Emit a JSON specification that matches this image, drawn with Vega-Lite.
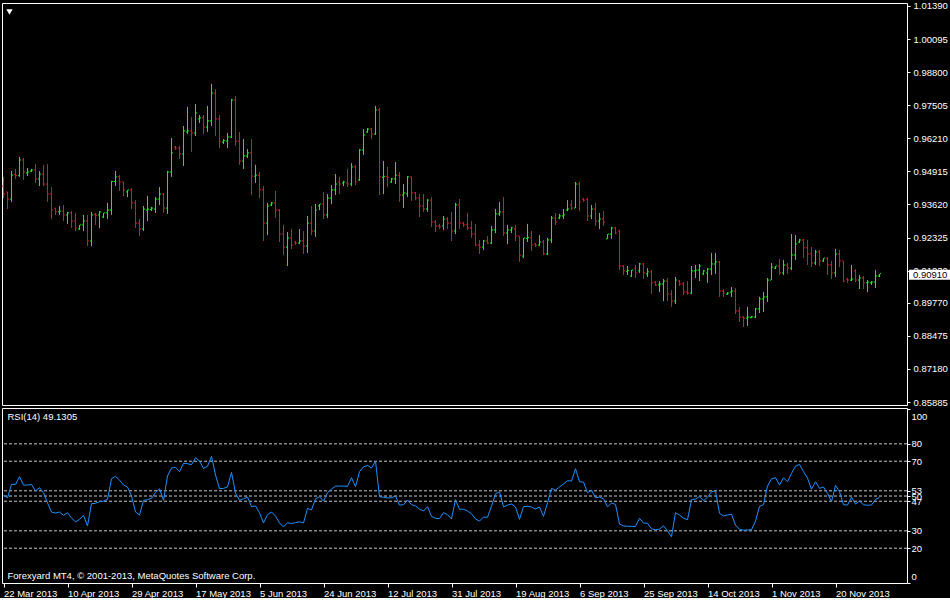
{
  "$schema": "https://vega.github.io/schema/vega-lite/v6.json",
  "background": "#000000",
  "padding": {"left": 1, "top": 0, "right": 0, "bottom": 0},
  "bounds": "flush",
  "config": {
    "view": {"stroke": "#ffffff", "strokeWidth": 1},
    "font": "Liberation Sans",
    "axis": {"domain": false, "grid": false, "labelColor": "#ffffff", "tickColor": "#ffffff", "labelFont": "Liberation Sans", "labelFontSize": 9.5, "title": null, "labelOverlap": false, "labelBound": false}
  },
  "data": {"values": [
{"d":"2013-03-22","o":0.9434,"h":0.9470,"l":0.9387,"c":0.9403,"r":50.4},
{"d":"2013-03-24","o":0.9411,"h":0.9412,"l":0.9344,"c":0.9383,"r":49.0},
{"d":"2013-03-25","o":0.9383,"h":0.9493,"l":0.9372,"c":0.9477,"r":56.7},
{"d":"2013-03-26","o":0.9479,"h":0.9501,"l":0.9462,"c":0.9475,"r":56.7},
{"d":"2013-03-27","o":0.9475,"h":0.9548,"l":0.9470,"c":0.9536,"r":61.1},
{"d":"2013-03-28","o":0.9536,"h":0.9544,"l":0.9458,"c":0.9489,"r":56.3},
{"d":"2013-03-29","o":0.9485,"h":0.9505,"l":0.9473,"c":0.9489,"r":56.3},
{"d":"2013-03-31","o":0.9493,"h":0.9501,"l":0.9489,"c":0.9497,"r":56.7},
{"d":"2013-04-01","o":0.9497,"h":0.9520,"l":0.9446,"c":0.9462,"r":52.9},
{"d":"2013-04-02","o":0.9462,"h":0.9493,"l":0.9434,"c":0.9481,"r":54.8},
{"d":"2013-04-03","o":0.9481,"h":0.9517,"l":0.9434,"c":0.9442,"r":51.9},
{"d":"2013-04-04","o":0.9442,"h":0.9520,"l":0.9372,"c":0.9403,"r":46.1},
{"d":"2013-04-05","o":0.9403,"h":0.9430,"l":0.9305,"c":0.9340,"r":40.8},
{"d":"2013-04-07","o":0.9348,"h":0.9349,"l":0.9321,"c":0.9333,"r":40.2},
{"d":"2013-04-08","o":0.9333,"h":0.9356,"l":0.9321,"c":0.9336,"r":40.8},
{"d":"2013-04-09","o":0.9336,"h":0.9360,"l":0.9297,"c":0.9321,"r":38.9},
{"d":"2013-04-10","o":0.9321,"h":0.9333,"l":0.9286,"c":0.9329,"r":40.4},
{"d":"2013-04-11","o":0.9329,"h":0.9336,"l":0.9270,"c":0.9297,"r":37.5},
{"d":"2013-04-12","o":0.9297,"h":0.9329,"l":0.9258,"c":0.9270,"r":35.1},
{"d":"2013-04-14","o":0.9266,"h":0.9282,"l":0.9262,"c":0.9282,"r":36.6},
{"d":"2013-04-15","o":0.9282,"h":0.9321,"l":0.9258,"c":0.9297,"r":38.9},
{"d":"2013-04-16","o":0.9297,"h":0.9321,"l":0.9199,"c":0.9219,"r":32.8},
{"d":"2013-04-17","o":0.9219,"h":0.9333,"l":0.9199,"c":0.9321,"r":45.6},
{"d":"2013-04-18","o":0.9323,"h":0.9329,"l":0.9282,"c":0.9319,"r":45.8},
{"d":"2013-04-19","o":0.9321,"h":0.9336,"l":0.9270,"c":0.9333,"r":46.7},
{"d":"2013-04-21","o":0.9313,"h":0.9329,"l":0.9309,"c":0.9329,"r":47.1},
{"d":"2013-04-22","o":0.9329,"h":0.9368,"l":0.9305,"c":0.9340,"r":48.1},
{"d":"2013-04-23","o":0.9340,"h":0.9454,"l":0.9321,"c":0.9452,"r":59.9},
{"d":"2013-04-24","o":0.9452,"h":0.9493,"l":0.9434,"c":0.9470,"r":61.3},
{"d":"2013-04-25","o":0.9470,"h":0.9477,"l":0.9415,"c":0.9450,"r":59.2},
{"d":"2013-04-26","o":0.9450,"h":0.9452,"l":0.9395,"c":0.9419,"r":56.3},
{"d":"2013-04-28","o":0.9411,"h":0.9419,"l":0.9391,"c":0.9419,"r":55.2},
{"d":"2013-04-29","o":0.9419,"h":0.9426,"l":0.9344,"c":0.9368,"r":50.0},
{"d":"2013-04-30","o":0.9368,"h":0.9379,"l":0.9270,"c":0.9289,"r":40.8},
{"d":"2013-05-01","o":0.9289,"h":0.9305,"l":0.9239,"c":0.9266,"r":39.1},
{"d":"2013-05-02","o":0.9266,"h":0.9356,"l":0.9258,"c":0.9344,"r":47.5},
{"d":"2013-05-03","o":0.9340,"h":0.9395,"l":0.9297,"c":0.9344,"r":47.9},
{"d":"2013-05-05","o":0.9342,"h":0.9352,"l":0.9336,"c":0.9348,"r":48.7},
{"d":"2013-05-06","o":0.9344,"h":0.9391,"l":0.9329,"c":0.9383,"r":51.9},
{"d":"2013-05-07","o":0.9383,"h":0.9430,"l":0.9360,"c":0.9403,"r":54.2},
{"d":"2013-05-08","o":0.9403,"h":0.9407,"l":0.9329,"c":0.9348,"r":47.5},
{"d":"2013-05-09","o":0.9348,"h":0.9493,"l":0.9325,"c":0.9489,"r":61.5},
{"d":"2013-05-10","o":0.9489,"h":0.9622,"l":0.9470,"c":0.9564,"r":66.1},
{"d":"2013-05-12","o":0.9587,"h":0.9591,"l":0.9575,"c":0.9583,"r":66.5},
{"d":"2013-05-13","o":0.9583,"h":0.9591,"l":0.9540,"c":0.9560,"r":64.0},
{"d":"2013-05-14","o":0.9560,"h":0.9669,"l":0.9513,"c":0.9650,"r":68.8},
{"d":"2013-05-15","o":0.9646,"h":0.9744,"l":0.9638,"c":0.9650,"r":68.6},
{"d":"2013-05-16","o":0.9650,"h":0.9704,"l":0.9567,"c":0.9642,"r":68.0},
{"d":"2013-05-17","o":0.9642,"h":0.9755,"l":0.9630,"c":0.9720,"r":72.0},
{"d":"2013-05-19","o":0.9697,"h":0.9712,"l":0.9681,"c":0.9701,"r":70.1},
{"d":"2013-05-20","o":0.9701,"h":0.9712,"l":0.9638,"c":0.9665,"r":65.9},
{"d":"2013-05-21","o":0.9665,"h":0.9748,"l":0.9646,"c":0.9689,"r":67.1},
{"d":"2013-05-22","o":0.9689,"h":0.9834,"l":0.9669,"c":0.9798,"r":72.8},
{"d":"2013-05-23","o":0.9798,"h":0.9814,"l":0.9630,"c":0.9697,"r":62.1},
{"d":"2013-05-24","o":0.9697,"h":0.9712,"l":0.9583,"c":0.9610,"r":54.2},
{"d":"2013-05-26","o":0.9606,"h":0.9618,"l":0.9599,"c":0.9612,"r":54.4},
{"d":"2013-05-27","o":0.9610,"h":0.9642,"l":0.9583,"c":0.9626,"r":55.2},
{"d":"2013-05-28","o":0.9626,"h":0.9775,"l":0.9622,"c":0.9771,"r":63.6},
{"d":"2013-05-29","o":0.9771,"h":0.9787,"l":0.9591,"c":0.9610,"r":51.6},
{"d":"2013-05-30","o":0.9610,"h":0.9646,"l":0.9517,"c":0.9532,"r":47.5},
{"d":"2013-05-31","o":0.9532,"h":0.9618,"l":0.9501,"c":0.9552,"r":48.4},
{"d":"2013-06-02","o":0.9552,"h":0.9579,"l":0.9544,"c":0.9564,"r":49.4},
{"d":"2013-06-03","o":0.9564,"h":0.9618,"l":0.9399,"c":0.9473,"r":43.9},
{"d":"2013-06-04","o":0.9473,"h":0.9517,"l":0.9446,"c":0.9477,"r":44.3},
{"d":"2013-06-05","o":0.9477,"h":0.9489,"l":0.9387,"c":0.9419,"r":40.4},
{"d":"2013-06-06","o":0.9419,"h":0.9434,"l":0.9219,"c":0.9289,"r":34.5},
{"d":"2013-06-07","o":0.9289,"h":0.9368,"l":0.9242,"c":0.9356,"r":39.3},
{"d":"2013-06-09","o":0.9360,"h":0.9372,"l":0.9356,"c":0.9368,"r":40.8},
{"d":"2013-06-10","o":0.9368,"h":0.9415,"l":0.9309,"c":0.9340,"r":38.5},
{"d":"2013-06-11","o":0.9340,"h":0.9344,"l":0.9215,"c":0.9246,"r":34.5},
{"d":"2013-06-12","o":0.9246,"h":0.9282,"l":0.9164,"c":0.9195,"r":32.2},
{"d":"2013-06-13","o":0.9195,"h":0.9254,"l":0.9121,"c":0.9231,"r":34.7},
{"d":"2013-06-14","o":0.9231,"h":0.9266,"l":0.9188,"c":0.9203,"r":34.1},
{"d":"2013-06-16","o":0.9215,"h":0.9219,"l":0.9203,"c":0.9211,"r":34.7},
{"d":"2013-06-17","o":0.9211,"h":0.9266,"l":0.9207,"c":0.9219,"r":35.2},
{"d":"2013-06-18","o":0.9219,"h":0.9258,"l":0.9168,"c":0.9199,"r":34.5},
{"d":"2013-06-19","o":0.9199,"h":0.9317,"l":0.9172,"c":0.9289,"r":42.9},
{"d":"2013-06-20","o":0.9289,"h":0.9356,"l":0.9242,"c":0.9258,"r":42.0},
{"d":"2013-06-21","o":0.9258,"h":0.9364,"l":0.9235,"c":0.9340,"r":48.4},
{"d":"2013-06-23","o":0.9356,"h":0.9364,"l":0.9340,"c":0.9364,"r":49.6},
{"d":"2013-06-24","o":0.9364,"h":0.9411,"l":0.9305,"c":0.9321,"r":47.1},
{"d":"2013-06-25","o":0.9321,"h":0.9403,"l":0.9309,"c":0.9387,"r":51.9},
{"d":"2013-06-26","o":0.9387,"h":0.9438,"l":0.9364,"c":0.9419,"r":54.0},
{"d":"2013-06-27","o":0.9419,"h":0.9481,"l":0.9399,"c":0.9442,"r":55.7},
{"d":"2013-06-28","o":0.9450,"h":0.9470,"l":0.9403,"c":0.9442,"r":55.7},
{"d":"2013-06-30","o":0.9446,"h":0.9454,"l":0.9434,"c":0.9450,"r":55.7},
{"d":"2013-07-01","o":0.9446,"h":0.9501,"l":0.9430,"c":0.9442,"r":55.5},
{"d":"2013-07-02","o":0.9442,"h":0.9524,"l":0.9434,"c":0.9509,"r":60.5},
{"d":"2013-07-03","o":0.9509,"h":0.9517,"l":0.9438,"c":0.9450,"r":55.3},
{"d":"2013-07-04","o":0.9458,"h":0.9579,"l":0.9454,"c":0.9575,"r":64.0},
{"d":"2013-07-05","o":0.9575,"h":0.9657,"l":0.9556,"c":0.9634,"r":66.8},
{"d":"2013-07-07","o":0.9646,"h":0.9661,"l":0.9642,"c":0.9657,"r":67.6},
{"d":"2013-07-08","o":0.9657,"h":0.9661,"l":0.9618,"c":0.9638,"r":66.1},
{"d":"2013-07-09","o":0.9638,"h":0.9748,"l":0.9634,"c":0.9732,"r":70.1},
{"d":"2013-07-10","o":0.9732,"h":0.9740,"l":0.9399,"c":0.9470,"r":49.6},
{"d":"2013-07-11","o":0.9468,"h":0.9532,"l":0.9403,"c":0.9472,"r":49.3},
{"d":"2013-07-12","o":0.9472,"h":0.9509,"l":0.9430,"c":0.9468,"r":48.9},
{"d":"2013-07-14","o":0.9450,"h":0.9466,"l":0.9446,"c":0.9462,"r":49.0},
{"d":"2013-07-15","o":0.9462,"h":0.9528,"l":0.9442,"c":0.9477,"r":50.0},
{"d":"2013-07-16","o":0.9477,"h":0.9489,"l":0.9372,"c":0.9399,"r":44.8},
{"d":"2013-07-17","o":0.9399,"h":0.9442,"l":0.9348,"c":0.9407,"r":45.0},
{"d":"2013-07-18","o":0.9403,"h":0.9473,"l":0.9391,"c":0.9470,"r":47.7},
{"d":"2013-07-19","o":0.9470,"h":0.9472,"l":0.9376,"c":0.9407,"r":45.0},
{"d":"2013-07-21","o":0.9407,"h":0.9411,"l":0.9379,"c":0.9387,"r":44.3},
{"d":"2013-07-22","o":0.9387,"h":0.9403,"l":0.9313,"c":0.9356,"r":42.4},
{"d":"2013-07-23","o":0.9356,"h":0.9403,"l":0.9333,"c":0.9344,"r":41.4},
{"d":"2013-07-24","o":0.9344,"h":0.9383,"l":0.9333,"c":0.9379,"r":43.9},
{"d":"2013-07-25","o":0.9379,"h":0.9391,"l":0.9274,"c":0.9293,"r":38.3},
{"d":"2013-07-26","o":0.9293,"h":0.9301,"l":0.9254,"c":0.9278,"r":37.2},
{"d":"2013-07-28","o":0.9278,"h":0.9286,"l":0.9266,"c":0.9274,"r":37.0},
{"d":"2013-07-29","o":0.9278,"h":0.9317,"l":0.9262,"c":0.9305,"r":40.4},
{"d":"2013-07-30","o":0.9305,"h":0.9313,"l":0.9266,"c":0.9289,"r":39.3},
{"d":"2013-07-31","o":0.9289,"h":0.9333,"l":0.9219,"c":0.9258,"r":36.8},
{"d":"2013-08-01","o":0.9258,"h":0.9368,"l":0.9246,"c":0.9360,"r":47.9},
{"d":"2013-08-02","o":0.9360,"h":0.9383,"l":0.9266,"c":0.9289,"r":42.4},
{"d":"2013-08-04","o":0.9289,"h":0.9293,"l":0.9274,"c":0.9282,"r":42.4},
{"d":"2013-08-05","o":0.9282,"h":0.9329,"l":0.9262,"c":0.9270,"r":41.4},
{"d":"2013-08-06","o":0.9270,"h":0.9297,"l":0.9231,"c":0.9246,"r":39.8},
{"d":"2013-08-07","o":0.9246,"h":0.9286,"l":0.9199,"c":0.9203,"r":36.8},
{"d":"2013-08-08","o":0.9203,"h":0.9223,"l":0.9168,"c":0.9195,"r":35.6},
{"d":"2013-08-09","o":0.9195,"h":0.9223,"l":0.9184,"c":0.9219,"r":37.9},
{"d":"2013-08-11","o":0.9219,"h":0.9239,"l":0.9207,"c":0.9211,"r":37.8},
{"d":"2013-08-12","o":0.9211,"h":0.9278,"l":0.9207,"c":0.9262,"r":44.1},
{"d":"2013-08-13","o":0.9262,"h":0.9344,"l":0.9250,"c":0.9325,"r":51.3},
{"d":"2013-08-14","o":0.9325,"h":0.9372,"l":0.9317,"c":0.9333,"r":52.5},
{"d":"2013-08-15","o":0.9333,"h":0.9391,"l":0.9239,"c":0.9250,"r":43.7},
{"d":"2013-08-16","o":0.9250,"h":0.9282,"l":0.9207,"c":0.9262,"r":44.8},
{"d":"2013-08-18","o":0.9262,"h":0.9274,"l":0.9250,"c":0.9270,"r":45.4},
{"d":"2013-08-19","o":0.9266,"h":0.9282,"l":0.9219,"c":0.9239,"r":43.7},
{"d":"2013-08-20","o":0.9239,"h":0.9239,"l":0.9137,"c":0.9164,"r":36.6},
{"d":"2013-08-21","o":0.9160,"h":0.9231,"l":0.9152,"c":0.9231,"r":43.9},
{"d":"2013-08-22","o":0.9229,"h":0.9286,"l":0.9215,"c":0.9233,"r":44.1},
{"d":"2013-08-23","o":0.9231,"h":0.9258,"l":0.9180,"c":0.9203,"r":43.7},
{"d":"2013-08-25","o":0.9207,"h":0.9211,"l":0.9195,"c":0.9203,"r":42.5},
{"d":"2013-08-26","o":0.9203,"h":0.9242,"l":0.9199,"c":0.9215,"r":43.7},
{"d":"2013-08-27","o":0.9215,"h":0.9223,"l":0.9164,"c":0.9168,"r":38.3},
{"d":"2013-08-28","o":0.9168,"h":0.9231,"l":0.9164,"c":0.9223,"r":46.1},
{"d":"2013-08-29","o":0.9223,"h":0.9317,"l":0.9211,"c":0.9309,"r":54.4},
{"d":"2013-08-30","o":0.9309,"h":0.9329,"l":0.9282,"c":0.9293,"r":53.4},
{"d":"2013-09-01","o":0.9309,"h":0.9325,"l":0.9305,"c":0.9317,"r":55.2},
{"d":"2013-09-02","o":0.9317,"h":0.9344,"l":0.9305,"c":0.9321,"r":56.9},
{"d":"2013-09-03","o":0.9340,"h":0.9379,"l":0.9336,"c":0.9344,"r":58.8},
{"d":"2013-09-04","o":0.9360,"h":0.9379,"l":0.9340,"c":0.9348,"r":58.6},
{"d":"2013-09-05","o":0.9348,"h":0.9450,"l":0.9348,"c":0.9442,"r":65.7},
{"d":"2013-09-06","o":0.9442,"h":0.9450,"l":0.9336,"c":0.9372,"r":58.2},
{"d":"2013-09-08","o":0.9383,"h":0.9387,"l":0.9372,"c":0.9379,"r":58.0},
{"d":"2013-09-09","o":0.9383,"h":0.9387,"l":0.9297,"c":0.9317,"r":51.9},
{"d":"2013-09-10","o":0.9317,"h":0.9360,"l":0.9305,"c":0.9344,"r":53.3},
{"d":"2013-09-11","o":0.9344,"h":0.9368,"l":0.9278,"c":0.9297,"r":49.0},
{"d":"2013-09-12","o":0.9297,"h":0.9329,"l":0.9266,"c":0.9305,"r":49.4},
{"d":"2013-09-13","o":0.9305,"h":0.9336,"l":0.9278,"c":0.9293,"r":48.4},
{"d":"2013-09-15","o":0.9227,"h":0.9246,"l":0.9227,"c":0.9246,"r":43.7},
{"d":"2013-09-16","o":0.9246,"h":0.9274,"l":0.9227,"c":0.9270,"r":46.0},
{"d":"2013-09-17","o":0.9270,"h":0.9274,"l":0.9246,"c":0.9250,"r":45.2},
{"d":"2013-09-18","o":0.9258,"h":0.9262,"l":0.9105,"c":0.9121,"r":33.9},
{"d":"2013-09-19","o":0.9121,"h":0.9125,"l":0.9086,"c":0.9102,"r":32.8},
{"d":"2013-09-20","o":0.9100,"h":0.9121,"l":0.9086,"c":0.9104,"r":32.6},
{"d":"2013-09-22","o":0.9082,"h":0.9105,"l":0.9078,"c":0.9105,"r":32.6},
{"d":"2013-09-23","o":0.9113,"h":0.9125,"l":0.9074,"c":0.9094,"r":32.5},
{"d":"2013-09-24","o":0.9102,"h":0.9133,"l":0.9094,"c":0.9129,"r":37.2},
{"d":"2013-09-25","o":0.9129,"h":0.9133,"l":0.9070,"c":0.9094,"r":34.5},
{"d":"2013-09-26","o":0.9090,"h":0.9113,"l":0.9078,"c":0.9098,"r":34.3},
{"d":"2013-09-27","o":0.9098,"h":0.9105,"l":0.9011,"c":0.9055,"r":31.2},
{"d":"2013-09-29","o":0.9058,"h":0.9062,"l":0.9043,"c":0.9047,"r":30.6},
{"d":"2013-09-30","o":0.9047,"h":0.9062,"l":0.9019,"c":0.9051,"r":31.0},
{"d":"2013-10-01","o":0.9051,"h":0.9070,"l":0.8984,"c":0.9062,"r":32.9},
{"d":"2013-10-02","o":0.9062,"h":0.9074,"l":0.8984,"c":0.9011,"r":29.9},
{"d":"2013-10-03","o":0.9011,"h":0.9027,"l":0.8961,"c":0.8984,"r":26.6},
{"d":"2013-10-04","o":0.8984,"h":0.9078,"l":0.8972,"c":0.9066,"r":40.4},
{"d":"2013-10-06","o":0.9062,"h":0.9066,"l":0.9043,"c":0.9051,"r":39.1},
{"d":"2013-10-07","o":0.9051,"h":0.9058,"l":0.9008,"c":0.9019,"r":37.2},
{"d":"2013-10-08","o":0.9019,"h":0.9062,"l":0.9008,"c":0.9015,"r":36.4},
{"d":"2013-10-09","o":0.9015,"h":0.9121,"l":0.9011,"c":0.9102,"r":47.9},
{"d":"2013-10-10","o":0.9102,"h":0.9125,"l":0.9074,"c":0.9105,"r":48.3},
{"d":"2013-10-11","o":0.9105,"h":0.9129,"l":0.9062,"c":0.9121,"r":49.6},
{"d":"2013-10-13","o":0.9090,"h":0.9105,"l":0.9086,"c":0.9102,"r":47.3},
{"d":"2013-10-14","o":0.9094,"h":0.9113,"l":0.9055,"c":0.9109,"r":49.3},
{"d":"2013-10-15","o":0.9109,"h":0.9172,"l":0.9086,"c":0.9129,"r":52.5},
{"d":"2013-10-16","o":0.9129,"h":0.9172,"l":0.9090,"c":0.9137,"r":52.9},
{"d":"2013-10-17","o":0.9137,"h":0.9141,"l":0.9000,"c":0.9023,"r":40.1},
{"d":"2013-10-18","o":0.9023,"h":0.9031,"l":0.9000,"c":0.9015,"r":38.5},
{"d":"2013-10-20","o":0.9011,"h":0.9019,"l":0.9008,"c":0.9015,"r":39.1},
{"d":"2013-10-21","o":0.9019,"h":0.9039,"l":0.9000,"c":0.9023,"r":39.5},
{"d":"2013-10-22","o":0.9023,"h":0.9035,"l":0.8933,"c":0.8945,"r":33.3},
{"d":"2013-10-23","o":0.8945,"h":0.8961,"l":0.8902,"c":0.8921,"r":30.9},
{"d":"2013-10-24","o":0.8921,"h":0.8925,"l":0.8882,"c":0.8917,"r":30.3},
{"d":"2013-10-25","o":0.8917,"h":0.8961,"l":0.8886,"c":0.8921,"r":30.5},
{"d":"2013-10-27","o":0.8919,"h":0.8925,"l":0.8917,"c":0.8922,"r":30.6},
{"d":"2013-10-28","o":0.8921,"h":0.8957,"l":0.8917,"c":0.8953,"r":35.6},
{"d":"2013-10-29","o":0.8953,"h":0.9000,"l":0.8937,"c":0.8992,"r":44.1},
{"d":"2013-10-30","o":0.8992,"h":0.9019,"l":0.8941,"c":0.9000,"r":45.0},
{"d":"2013-10-31","o":0.9000,"h":0.9074,"l":0.8980,"c":0.9066,"r":55.7},
{"d":"2013-11-01","o":0.9066,"h":0.9133,"l":0.9066,"c":0.9117,"r":59.9},
{"d":"2013-11-03","o":0.9113,"h":0.9121,"l":0.9109,"c":0.9121,"r":60.5},
{"d":"2013-11-04","o":0.9121,"h":0.9149,"l":0.9086,"c":0.9094,"r":56.3},
{"d":"2013-11-05","o":0.9094,"h":0.9145,"l":0.9086,"c":0.9125,"r":60.5},
{"d":"2013-11-06","o":0.9125,"h":0.9133,"l":0.9090,"c":0.9113,"r":58.2},
{"d":"2013-11-07","o":0.9113,"h":0.9246,"l":0.9105,"c":0.9164,"r":63.0},
{"d":"2013-11-08","o":0.9164,"h":0.9242,"l":0.9145,"c":0.9207,"r":67.1},
{"d":"2013-11-10","o":0.9215,"h":0.9227,"l":0.9211,"c":0.9223,"r":68.2},
{"d":"2013-11-11","o":0.9223,"h":0.9227,"l":0.9152,"c":0.9192,"r":64.0},
{"d":"2013-11-12","o":0.9192,"h":0.9223,"l":0.9125,"c":0.9168,"r":60.3},
{"d":"2013-11-13","o":0.9168,"h":0.9195,"l":0.9117,"c":0.9133,"r":53.9},
{"d":"2013-11-14","o":0.9133,"h":0.9184,"l":0.9125,"c":0.9176,"r":58.2},
{"d":"2013-11-15","o":0.9176,"h":0.9184,"l":0.9121,"c":0.9141,"r":54.4},
{"d":"2013-11-17","o":0.9141,"h":0.9152,"l":0.9137,"c":0.9152,"r":55.2},
{"d":"2013-11-18","o":0.9152,"h":0.9156,"l":0.9086,"c":0.9125,"r":51.6},
{"d":"2013-11-19","o":0.9125,"h":0.9141,"l":0.9070,"c":0.9094,"r":46.7},
{"d":"2013-11-20","o":0.9094,"h":0.9188,"l":0.9078,"c":0.9168,"r":56.1},
{"d":"2013-11-21","o":0.9168,"h":0.9184,"l":0.9117,"c":0.9141,"r":52.5},
{"d":"2013-11-22","o":0.9141,"h":0.9141,"l":0.9058,"c":0.9062,"r":45.0},
{"d":"2013-11-24","o":0.9070,"h":0.9074,"l":0.9055,"c":0.9066,"r":44.8},
{"d":"2013-11-25","o":0.9066,"h":0.9125,"l":0.9062,"c":0.9070,"r":49.4},
{"d":"2013-11-26","o":0.9102,"h":0.9109,"l":0.9058,"c":0.9066,"r":45.4},
{"d":"2013-11-27","o":0.9066,"h":0.9086,"l":0.9031,"c":0.9074,"r":47.1},
{"d":"2013-11-28","o":0.9074,"h":0.9082,"l":0.9031,"c":0.9055,"r":45.0},
{"d":"2013-11-29","o":0.9055,"h":0.9066,"l":0.9019,"c":0.9058,"r":44.7},
{"d":"2013-12-01","o":0.9055,"h":0.9062,"l":0.9047,"c":0.9058,"r":44.8},
{"d":"2013-12-02","o":0.9058,"h":0.9105,"l":0.9035,"c":0.9082,"r":48.1},
{"d":"2013-12-03","o":0.9082,"h":0.9090,"l":0.9078,"c":0.9091,"r":49.1305}
  ]},
  "spacing": 3,
  "resolve": {"scale": {"x": "independent"}},
  "vconcat": [
    {
      "width": 905,
      "height": 402,
      "layer": [
        {
          "mark": {"type": "rule", "strokeWidth": 1},
          "encoding": {
            "x": {"field": "d", "type": "ordinal", "scale": {"type": "point", "range": [1.5, 877.5], "padding": 0, "align": 0}, "axis": null},
            "y": {"field": "h", "type": "quantitative", "scale": {"domain": [0.85769, 1.01507], "nice": false, "zero": false},
              "axis": {"orient": "right", "values": [0.85885, 0.8718, 0.88475, 0.8977, 0.9103, 0.92325, 0.9362, 0.94915, 0.9621, 0.97505, 0.988, 1.00095, 1.0139], "tickCount": 100, "format": ".5f", "tickSize": 3, "labelPadding": 3, "labelOverlap": false, "labelBound": false, "labelFlush": false}},
            "y2": {"field": "l"},
            "color": {"condition": {"test": "datum.c >= datum.o", "value": "#00ff00"}, "value": "#dc143c"}
          }
        },
        {
          "mark": {"type": "rule", "strokeWidth": 1, "xOffset": -1.5, "x2Offset": -0.5},
          "encoding": {
            "x": {"field": "d", "type": "ordinal", "scale": {"type": "point", "range": [1.5, 877.5], "padding": 0, "align": 0}, "axis": null},
            "x2": {"field": "d"},
            "y": {"field": "o", "type": "quantitative"},
            "color": {"condition": {"test": "datum.c >= datum.o", "value": "#00ff00"}, "value": "#dc143c"}
          }
        },
        {
          "mark": {"type": "rule", "strokeWidth": 1, "xOffset": 0.5, "x2Offset": 1.5},
          "encoding": {
            "x": {"field": "d", "type": "ordinal", "scale": {"type": "point", "range": [1.5, 877.5], "padding": 0, "align": 0}, "axis": null},
            "x2": {"field": "d"},
            "y": {"field": "c", "type": "quantitative"},
            "color": {"condition": {"test": "datum.c >= datum.o", "value": "#00ff00"}, "value": "#dc143c"}
          }
        },
        {
          "data": {"values": [{"d": "2013-12-03", "p": 0.9091, "t": "0.90910"}]},
          "mark": {"type": "rule", "strokeWidth": 10, "color": "#ffffff", "xOffset": 29.5, "x2Offset": 72, "yOffset": 1},
          "encoding": {
            "x": {"field": "d", "type": "ordinal", "scale": {"type": "point", "range": [1.5, 877.5], "padding": 0, "align": 0}, "axis": null},
            "x2": {"field": "d"}, "y": {"field": "p", "type": "quantitative"}}
        },
        {
          "data": {"values": [{"d": "2013-12-03", "p": 0.9091, "t": "0.90910"}]},
          "mark": {"type": "text", "align": "left", "baseline": "middle", "dx": 33.5, "dy": 1, "color": "#000000", "font": "Liberation Sans", "fontSize": 9.5},
          "encoding": {
            "x": {"field": "d", "type": "ordinal", "scale": {"type": "point", "range": [1.5, 877.5], "padding": 0, "align": 0}, "axis": null},
            "y": {"field": "p", "type": "quantitative"}, "text": {"field": "t"}}
        },
        {
          "data": {"values": [{"d": "2013-03-22", "p": 1.01507}]},
          "mark": {"type": "point", "shape": "triangle-down", "filled": true, "color": "#ffffff", "opacity": 1, "size": 40, "xOffset": 6, "yOffset": 9},
          "encoding": {
            "x": {"field": "d", "type": "ordinal", "scale": {"type": "point", "range": [1.5, 877.5], "padding": 0, "align": 0}, "axis": null},
            "y": {"field": "p", "type": "quantitative"}}
        }
      ]
    },
    {
      "width": 905,
      "height": 175,
      "layer": [
        {
          "data": {"values": [{"lv": 20}, {"lv": 30}, {"lv": 47}, {"lv": 50}, {"lv": 53}, {"lv": 70}, {"lv": 80}]},
          "mark": {"type": "rule", "strokeDash": [3, 2], "color": "#c8c8c8", "strokeWidth": 1},
          "encoding": {
            "y": {"field": "lv", "type": "quantitative", "scale": {"domain": [0, 100.6], "nice": false, "zero": false},
              "axis": {"orient": "right", "values": [0, 20, 30, 47, 50, 53, 70, 80, 100], "tickCount": 100, "tickSize": 3, "labelPadding": 1, "labelOverlap": false, "labelBound": false, "labelFlush": 3, "labelFlushOffset": -2}}
          }
        },
        {
          "mark": {"type": "line", "color": "#1e90ff", "strokeWidth": 1},
          "encoding": {
            "x": {"field": "d", "type": "ordinal", "scale": {"type": "point", "range": [1.5, 877.5], "padding": 0, "align": 0},
              "axis": {"orient": "bottom", "values": ["2013-03-22", "2013-04-10", "2013-04-29", "2013-05-17", "2013-06-05", "2013-06-24", "2013-07-12", "2013-07-31", "2013-08-19", "2013-09-06", "2013-09-25", "2013-10-14", "2013-11-01", "2013-11-20"],
                "labelExpr": "utcFormat(toDate(datum.value), '%-d %b %Y')", "labelAlign": "left", "tickSize": 4, "labelPadding": 1, "labelOverlap": false, "labelBound": false, "labelFlush": false, "labelAngle": 0}},
            "y": {"field": "r", "type": "quantitative"}
          }
        },
        {
          "data": {"values": [{"d": "2013-03-22", "v": 100.6, "t": "RSI(14) 49.1305"}]},
          "mark": {"type": "text", "align": "left", "baseline": "alphabetic", "dx": 4, "dy": 12, "color": "#ffffff", "font": "Liberation Sans", "fontSize": 9.5},
          "encoding": {
            "x": {"field": "d", "type": "ordinal", "scale": {"type": "point", "range": [1.5, 877.5], "padding": 0, "align": 0}},
            "y": {"field": "v", "type": "quantitative"}, "text": {"field": "t"}}
        },
        {
          "data": {"values": [{"d": "2013-03-22", "v": 0, "t": "Forexyard MT4, © 2001-2013, MetaQuotes Software Corp."}]},
          "mark": {"type": "text", "align": "left", "baseline": "alphabetic", "dx": 4, "dy": -4, "color": "#ffffff", "font": "Liberation Sans", "fontSize": 9.5},
          "encoding": {
            "x": {"field": "d", "type": "ordinal", "scale": {"type": "point", "range": [1.5, 877.5], "padding": 0, "align": 0}},
            "y": {"field": "v", "type": "quantitative"}, "text": {"field": "t"}}
        }
      ]
    }
  ]
}
